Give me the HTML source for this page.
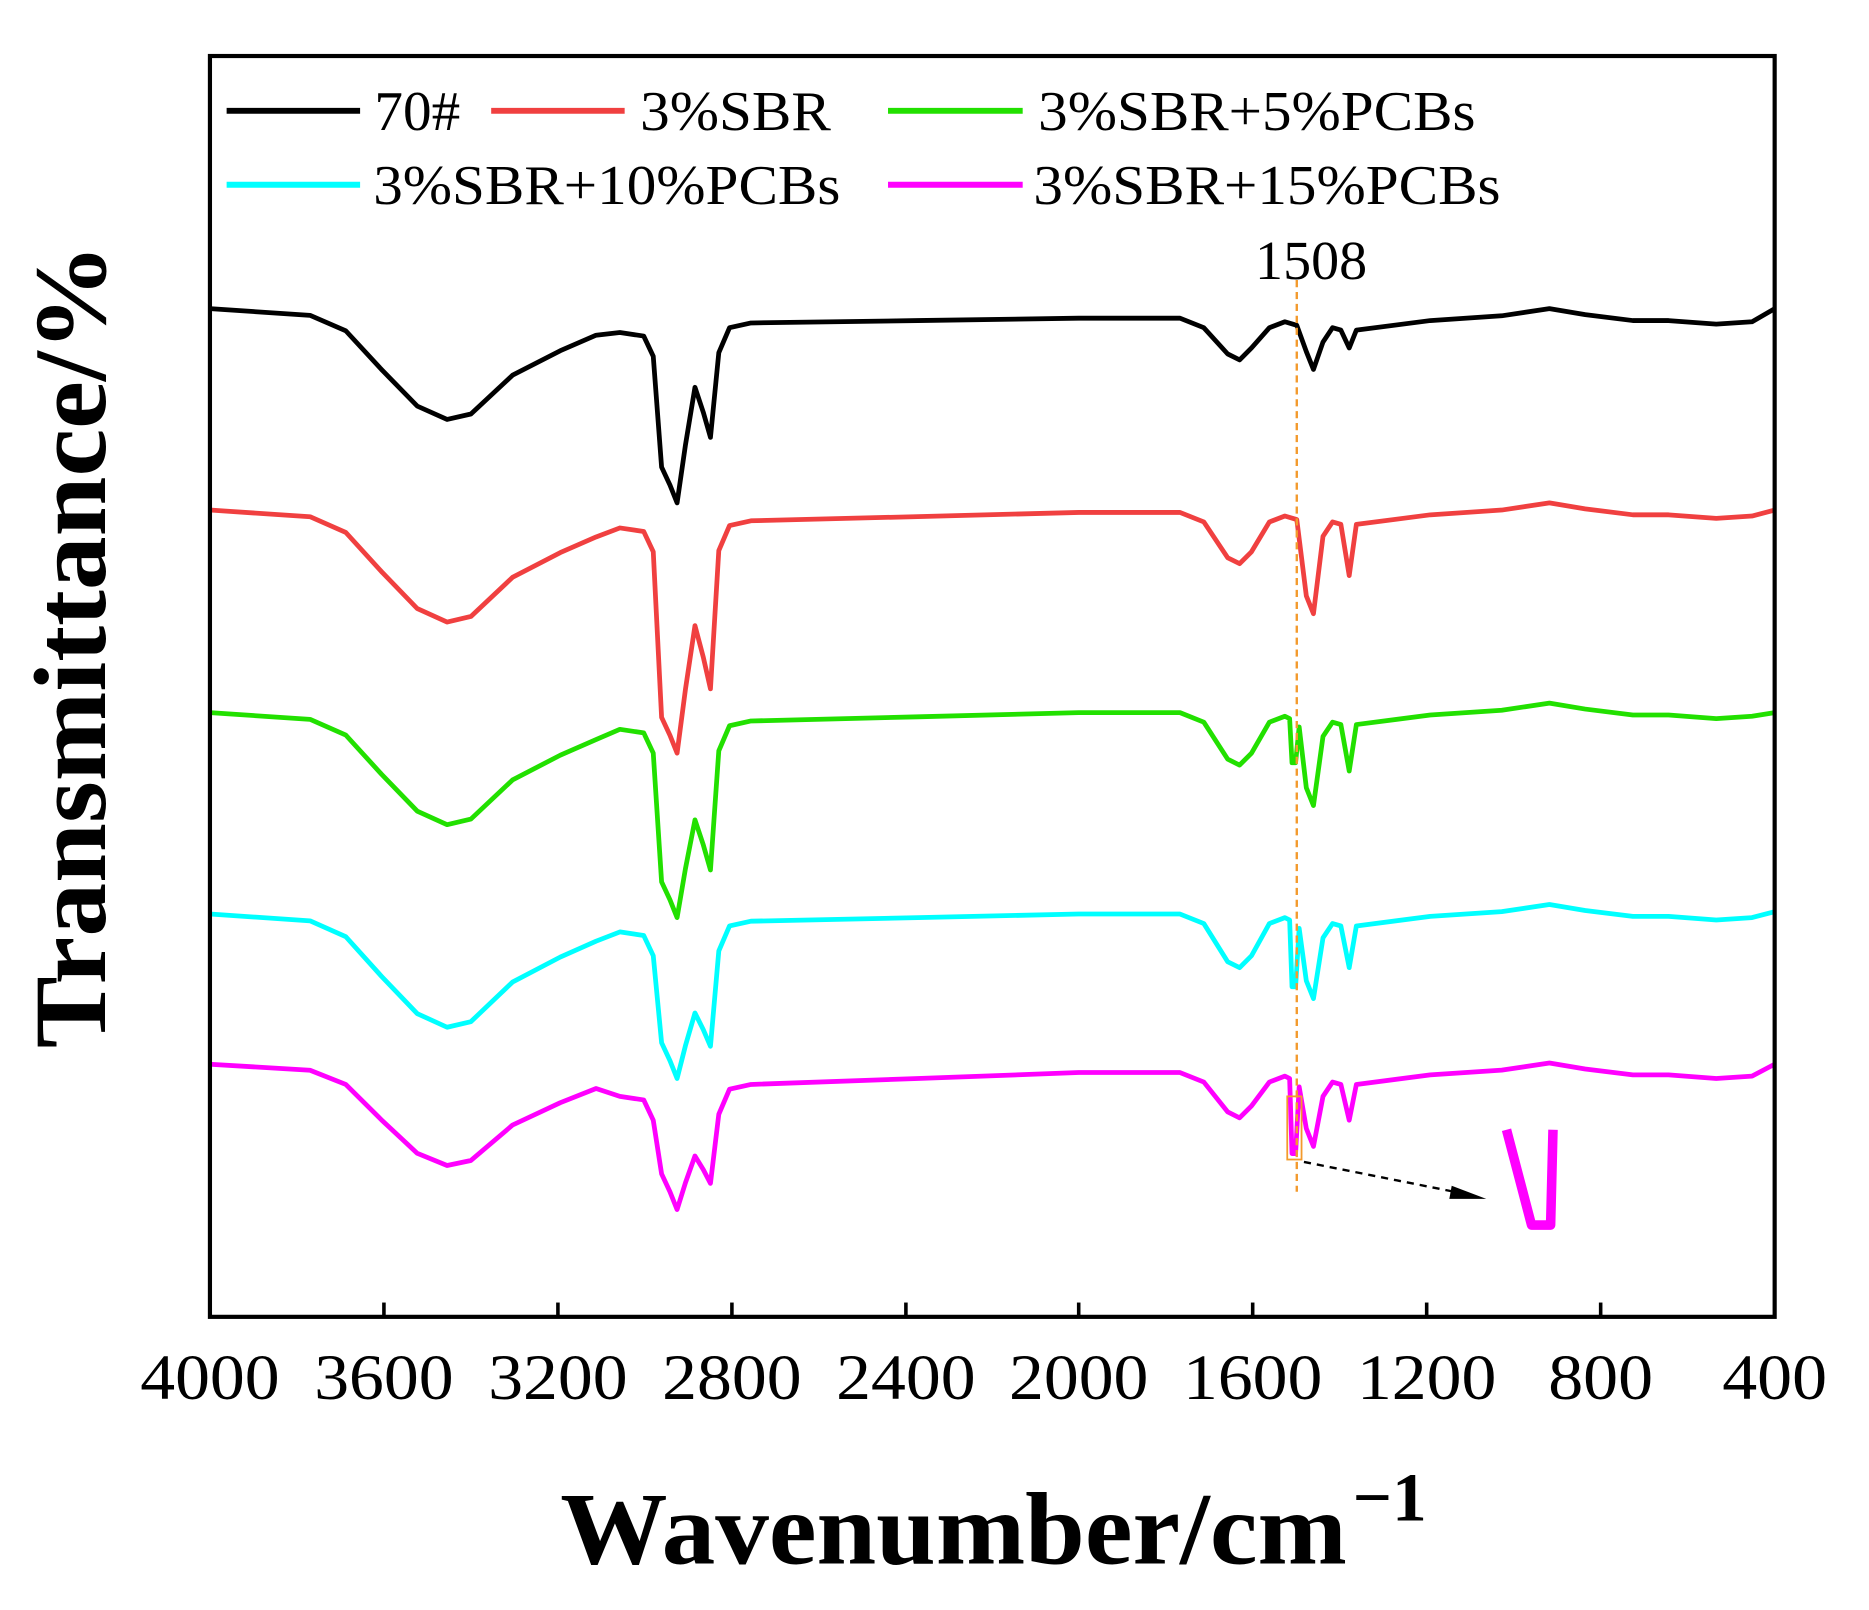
<!DOCTYPE html>
<html><head><meta charset="utf-8"><style>
html,body{margin:0;padding:0;background:#fff;}
svg{display:block;}
text{font-family:"Liberation Serif",serif;fill:#000;}
</style></head><body>
<svg id="s" width="1869" height="1610" viewBox="0 0 1568 1351" xmlns="http://www.w3.org/2000/svg">
<rect x="0" y="0" width="1568" height="1351" fill="#fff"/>
<g id="curves" fill="none" stroke-width="4" stroke-linejoin="round"></g>
<line x1="1088" y1="235" x2="1088" y2="1000" stroke="#f39a2c" stroke-width="2" stroke-dasharray="6,4"/>
<rect x="1080" y="920" width="12" height="53" fill="none" stroke="#f39a2c" stroke-width="1.5"/>
<line x1="1094" y1="975" x2="1225" y2="1001" stroke="#000" stroke-width="2" stroke-dasharray="6,5"/>
<polygon points="1247,1006 1218,995 1216,1006" fill="#000"/>
<polyline points="1264,948 1285,1028 1301,1028 1303,948" fill="none" stroke="#ff00ff" stroke-width="8" stroke-linejoin="round"/>
<rect x="176" y="47" width="1313" height="1058" fill="none" stroke="#000" stroke-width="3.5"/>
<g stroke="#000" stroke-width="3">
<line x1="322" y1="1105" x2="322" y2="1093"/><line x1="468" y1="1105" x2="468" y2="1093"/>
<line x1="614" y1="1105" x2="614" y2="1093"/><line x1="760" y1="1105" x2="760" y2="1093"/>
<line x1="905" y1="1105" x2="905" y2="1093"/><line x1="1051" y1="1105" x2="1051" y2="1093"/>
<line x1="1197" y1="1105" x2="1197" y2="1093"/><line x1="1343" y1="1105" x2="1343" y2="1093"/>
</g>
<g font-size="54" text-anchor="middle">
<text x="176" y="1174" textLength="117" lengthAdjust="spacingAndGlyphs">4000</text><text x="322" y="1174" textLength="117" lengthAdjust="spacingAndGlyphs">3600</text><text x="468" y="1174" textLength="117" lengthAdjust="spacingAndGlyphs">3200</text>
<text x="614" y="1174" textLength="117" lengthAdjust="spacingAndGlyphs">2800</text><text x="760" y="1174" textLength="117" lengthAdjust="spacingAndGlyphs">2400</text><text x="905" y="1174" textLength="117" lengthAdjust="spacingAndGlyphs">2000</text>
<text x="1051" y="1174" textLength="117" lengthAdjust="spacingAndGlyphs">1600</text><text x="1197" y="1174" textLength="117" lengthAdjust="spacingAndGlyphs">1200</text><text x="1343" y="1174" textLength="88" lengthAdjust="spacingAndGlyphs">800</text>
<text x="1489" y="1174" textLength="88" lengthAdjust="spacingAndGlyphs">400</text>
</g>
<text x="1100" y="234" font-size="46" text-anchor="middle" textLength="94" lengthAdjust="spacingAndGlyphs">1508</text>
<g stroke-width="5">
<line x1="190" y1="93" x2="302" y2="93" stroke="#000"/>
<line x1="412" y1="93" x2="524" y2="93" stroke="#f04040"/>
<line x1="745" y1="93" x2="858" y2="93" stroke="#22e000"/>
<line x1="190" y1="155" x2="302" y2="155" stroke="#00ffff"/>
<line x1="745" y1="155" x2="858" y2="155" stroke="#ff00ff"/>
</g>
<g font-size="47">
<text x="314" y="109" textLength="72" lengthAdjust="spacingAndGlyphs">70#</text>
<text x="537" y="109" textLength="160" lengthAdjust="spacingAndGlyphs">3%SBR</text>
<text x="871" y="109" textLength="367" lengthAdjust="spacingAndGlyphs">3%SBR+5%PCBs</text>
<text x="313" y="171" textLength="392" lengthAdjust="spacingAndGlyphs">3%SBR+10%PCBs</text>
<text x="867" y="171" textLength="392" lengthAdjust="spacingAndGlyphs">3%SBR+15%PCBs</text>
</g>
<text transform="translate(88,542) rotate(-90)" font-size="86" font-weight="bold" text-anchor="middle" textLength="675" lengthAdjust="spacingAndGlyphs">Transmittance/%</text>
<text x="470" y="1312" font-size="86" font-weight="bold" textLength="660" lengthAdjust="spacingAndGlyphs">Wavenumber/cm</text>
<text x="1135" y="1276" font-size="58" font-weight="bold">−1</text>
</svg>
<script>
var P=[
["#000",259,352,279,422,325,367,271,267,302,null,310,292,259],
["#f04040",428,522,443,632,525,578,437,430,473,null,515,483,428],
["#22e000",598,692,612,770,688,730,605,598,642,640,676,647,598],
["#00ffff",767,862,782,905,850,878,773,767,812,828,838,812,765],
["#ff00ff",893,978,920,1015,970,993,910,900,938,968,962,940,893]];
var g=document.getElementById("curves");
P.forEach(function(c){
var y0=c[1],B=c[2],m=c[3],d1=c[4],mid=c[5],d2=c[6],p=c[7],q=c[8],a=c[9],e=c[10],f=c[11],gg=c[12],r=c[13],D=B-y0;
var pts=[[176,y0],[260,y0+.06*D],[290,y0+.2*D],[320,y0+.55*D],[350,y0+.88*D],[375,B],[395,B-.05*D],[430,y0+.6*D],[470,y0+.38*D],[500,y0+.24*D],[520,m],[540,m+3],[548,m+20],[555,d1-30],[562,d1-15],[568,d1],[575,(d1+mid)/2],[583,mid],[590,(mid+d2)/2],[596,d2],[603,p+25],[612,p+4],[630,p],[770,(p+q)/2],[905,q],[990,q],[1010,q+8],[1030,a-5],[1040,a],[1050,a-10],[1065,q+8],[1078,q+3]];
if(e!==null){pts.push([1082,q+5],[1084,e],[1087,e],[1090,q+12]);}else{pts.push([1088,q+6]);}
pts=pts.concat([[1096,f-15],[1102,f],[1110,q+20],[1118,q+8],[1125,q+10],[1132,gg],[1138,q+10],[1200,q+2],[1260,q-2],[1300,q-8],[1330,q-3],[1370,q+2],[1400,q+2],[1440,q+5],[1470,q+3],[1489,r]]);
var pl=document.createElementNS("http://www.w3.org/2000/svg","polyline");
pl.setAttribute("points",pts.map(function(t){return t[0]+","+t[1].toFixed(1)}).join(" "));
pl.setAttribute("stroke",c[0]);
g.appendChild(pl);
});
</script>
</body></html>
